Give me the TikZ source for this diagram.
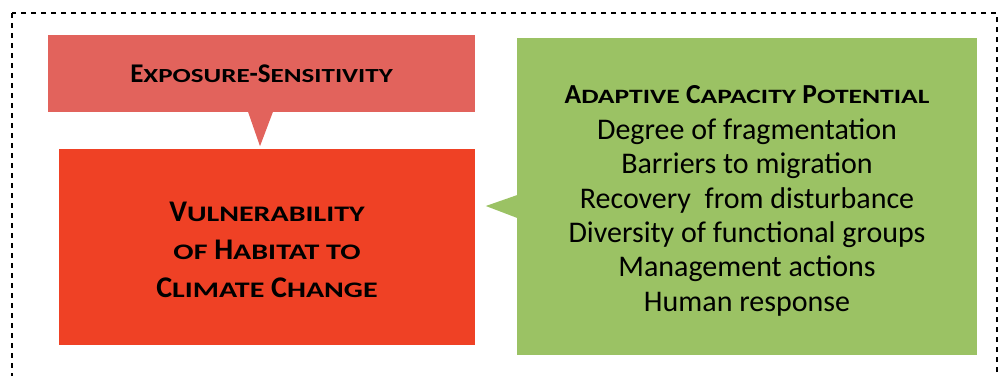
\documentclass[tikz,border=0pt]{standalone}
\usepackage{fontspec}
\setmainfont{Carlito}
\usepackage{graphicx}
\usetikzlibrary{positioning,calc}

\definecolor{expofill}{RGB}{226,99,92}
\definecolor{vulnfill}{RGB}{239,65,37}
\definecolor{adaptfill}{RGB}{155,194,100}

% fake small caps: big first letter, rest scaled
\newcommand{\scw}[2]{#1\scalebox{1.0}[0.74]{#2}}

\begin{document}
\begin{tikzpicture}[x=1pt,y=-1pt,
  box/.style={inner sep=0pt,align=center,text=black}]
\useasboundingbox (0,0) rectangle (1007,375);
\clip (0,0) rectangle (1007,375);
% outer dashed frame
\draw[line width=2.5pt,dash pattern=on 5pt off 5pt] (12,13) rectangle (997,400);
% boxes
\node[box,fill=expofill,minimum width=427pt,minimum height=77pt,
  font=\bfseries\fontsize{27}{31}\selectfont] (expo) at (261.5,73.5)
  {\raisebox{-3pt}{\scw{E}{XPOSURE}-\scw{S}{ENSITIVITY}}};
\node[box,fill=vulnfill,minimum width=416pt,minimum height=196pt] (vuln) at (267,247) {};
\node[box,fill=adaptfill,minimum width=460pt,minimum height=317pt] (adapt) at (747,196.5) {};
% pointers
\fill[expofill] ($(expo.south)+(-13.5,-0.5)$) -- ($(expo.south)+(-1.5,34)$) -- ($(expo.south)+(11.5,-0.5)$) -- cycle;
\fill[adaptfill] ($(adapt.west)+(0.5,-1.5)$) -- ($(adapt.west)+(-31,9.5)$) -- ($(adapt.west)+(0.5,21.5)$) -- cycle;
% texts
\node[box,font=\bfseries\fontsize{30}{38}\selectfont] (vulntxt) at ($(vuln.center)+(0,3)$)
  {\scw{V}{ULNERABILITY}\\ \scalebox{1.0}[0.74]{OF} \scw{H}{ABITAT} \scalebox{1.0}[0.74]{TO}\\ \scw{C}{LIMATE} \scw{C}{HANGE}};
\node[box,font=\fontsize{30}{34.3}\selectfont] (adapttxt) at ($(adapt.center)+(0,4)$)
  {{\bfseries\fontsize{27.5}{34.3}\selectfont \scw{A}{DAPTIVE} \scw{C}{APACITY} \scw{P}{OTENTIAL}}\\[2pt]
   Degree of fragmentation\\ Barriers to migration\\ Recovery\ \ from disturbance\\
   Diversity of functional groups\\ Management actions\\ Human response};
\end{tikzpicture}
\end{document}
